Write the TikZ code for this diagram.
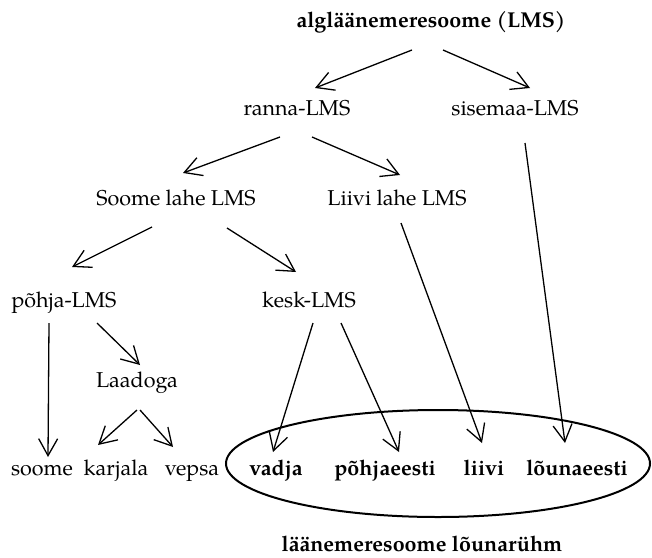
\documentclass[tikz,border=0pt]{standalone}
\usepackage{fontspec}
\setmainfont{TeX Gyre Pagella}
\usetikzlibrary{arrows.meta,shapes.geometric}
\tikzset{
  lbl/.style={anchor=base, inner sep=0pt, font=\fontsize{21.5}{24}\selectfont},
  blbl/.style={lbl, font=\fontsize{21.5}{24}\selectfont\bfseries},
  arr/.style={line width=1.3pt, -{Straight Barb[length=17pt,width=19pt,line width=1.3pt]}},
  grpbox/.style={draw, ellipse, line width=2pt, inner sep=0pt, minimum width=424pt, minimum height=107pt}
}
\begin{document}
\begin{tikzpicture}[x=1pt,y=-1pt]
\useasboundingbox (0,0) rectangle (652,557);
% nodes
\node[blbl] (alg) at (431,27) {algläänemeresoome (LMS)};
\node[lbl] (ranna) at (297,115) {ranna-LMS};
\node[lbl] (sise) at (515,115) {sisemaa-LMS};
\node[lbl] (soomel) at (176,205) {Soome lahe LMS};
\node[lbl] (liivil) at (397,205) {Liivi lahe LMS};
\node[lbl] (pohja) at (64,307) {põhja-LMS};
\node[lbl] (kesk) at (309,307) {kesk-LMS};
\node[lbl] (laad) at (137,387) {Laadoga};
\node[lbl] (soome) at (42,475) {soome};
\node[lbl] (karj) at (116,475) {karjala};
\node[lbl] (veps) at (192,475) {vepsa};
\node[blbl] (vadja) at (276,475) {vadja};
\node[blbl] (pohjae) at (385,475) {põhjaeesti};
\node[blbl] (liivi) at (484,475) {liivi};
\node[blbl] (louna) at (577,475) {lõunaeesti};
\node[grpbox] (grp) at (438,463.5) {};
\node[blbl] (grplbl) at (422,551) {läänemeresoome lõunarühm};
% connectors
\draw[arr] ([shift={(-19,23)}]alg.base) -- ([shift={(18,-27)}]ranna.base);
\draw[arr] ([shift={(12,23)}]alg.base) -- ([shift={(15,-27)}]sise.base);
\draw[arr] ([shift={(-17,22)}]ranna.base) -- ([shift={(7,-32)}]soomel.base);
\draw[arr] ([shift={(15,22)}]ranna.base) -- ([shift={(3,-30)}]liivil.base);
\draw[arr] ([shift={(-24,22)}]soomel.base) -- ([shift={(8,-40)}]pohja.base);
\draw[arr] ([shift={(51,23)}]soomel.base) -- ([shift={(-13,-35)}]kesk.base);
\draw[arr] ([shift={(10,28)}]sise.base) -- ([shift={(-12,-32)}]louna.base);
\draw[arr] ([shift={(4,18)}]liivil.base) -- ([shift={(-2,-32)}]liivi.base);
\draw[arr] ([shift={(-15,16)}]pohja.base) -- ([shift={(6,-18)}]soome.base);
\draw[arr] ([shift={(33,16)}]pohja.base) -- ([shift={(3,-22)}]laad.base);
\draw[arr] ([shift={(4,16)}]kesk.base) -- ([shift={(-3,-23)}]vadja.base);
\draw[arr] ([shift={(32,16)}]kesk.base) -- ([shift={(14,-23)}]pohjae.base);
\draw[arr] ([shift={(0,23)}]laad.base) -- ([shift={(-18,-30)}]karj.base);
\draw[arr] ([shift={(3,23)}]laad.base) -- ([shift={(-19,-28)}]veps.base);
\end{tikzpicture}
\end{document}
